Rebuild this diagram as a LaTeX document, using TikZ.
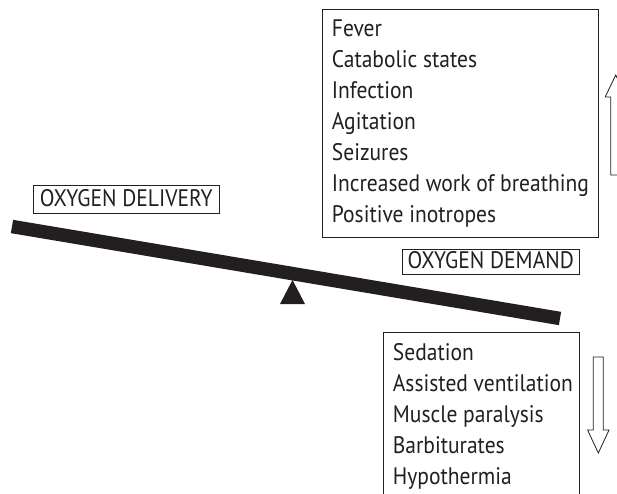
\documentclass[tikz,border=0pt]{standalone}
\usepackage{fontspec}
\setmainfont[FakeStretch=0.9]{PT Sans}
\definecolor{ink}{HTML}{231F20}
\newlength\reflen
\begin{document}
\settowidth\reflen{\fontsize{10pt}{12pt}\selectfont Increased work of breathing}%
\pgfmathsetmacro\fs{10*257/\reflen}%
\begin{tikzpicture}[x=1pt,y=-1pt,
  boxline/.style={draw=ink, line width=0.9pt},
  hollowarrow/.style={draw=ink, line width=0.8pt, line join=miter, fill=white},
  lbl/.style={font=\fontsize{\fs pt}{\fs pt}\selectfont, inner sep=0pt, text=ink},
  listitem/.style={lbl, anchor=base west}]
\clip (0,0) rectangle (617,494);
\fill[white] (0,0) rectangle (617,494);
% top box
\draw[boxline] (322,9.5) rectangle (598,237.5);
\foreach \t [count=\i from 0] in {Fever, Catabolic states, Infection, Agitation, Seizures, Increased work of breathing, Positive inotropes}
  \node[listitem] (up\i) at (331.7, {36.7+\i*30.93}) {\t};
% bottom box
\draw[boxline] (383,332) rectangle (579.3,505);
\foreach \t [count=\i from 0] in {Sedation, Assisted ventilation, Muscle paralysis, Barbiturates, Hypothermia}
  \node[listitem] (dn\i) at (392.7, {360+\i*31}) {\t};
% labels
\draw[boxline] (33.3,185) rectangle (219.3,213.3);
\node[lbl, anchor=base] (deliv) at (126.3,206.7) {OXYGEN DELIVERY};
\draw[boxline] (402.3,249) rectangle (579.3,274);
\node[lbl, anchor=base] (demand) at (490.8,268.7) {OXYGEN DEMAND};
% beam and fulcrum
\coordinate (beamL) at (12,226.5);
\coordinate (beamR) at (560,318.5);
\draw[ink, line width=13.5pt] (beamL) -- (beamR);
\fill[ink] (292.5,280) -- (305,304) -- (280,304) -- cycle;
% arrows
\draw[hollowarrow] (610.7,175) -- (610.7,97) -- (605.2,97) -- (615.7,75) -- (626.2,97) -- (620.7,97) -- (620.7,175) -- cycle;
\draw[hollowarrow] (593.3,357) -- (603.3,357) -- (603.3,430) -- (609,430) -- (598.3,453) -- (587.6,430) -- (593.3,430) -- cycle;
\end{tikzpicture}
\end{document}
